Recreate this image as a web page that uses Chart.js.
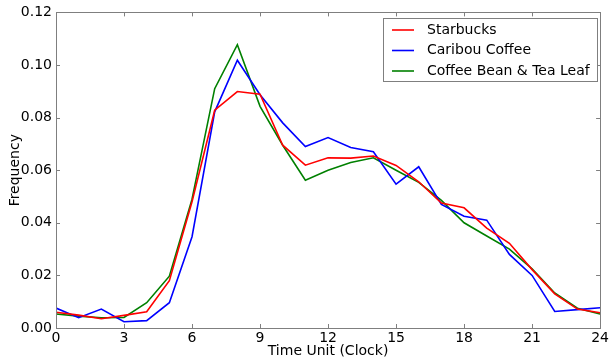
<!DOCTYPE html>
<html>
<head>
<meta charset="utf-8">
<script src="https://cdn.jsdelivr.net/npm/chart.js@4/dist/chart.umd.min.js"></script>
<style>
  html, body { margin: 0; padding: 0; background: #fff; }
  #wrap { width: 611px; height: 360px; }
</style>
</head>
<body>
<div id="wrap"><canvas id="chart" width="611" height="360"></canvas></div>
<script>
var hours = [0, 1, 2, 3, 4, 5, 6, 7, 8, 9, 10, 11, 12, 13, 14, 15, 16, 17, 18, 19, 20, 21, 22, 23, 24];
var starbucks = [0.0060, 0.0049, 0.0035, 0.0048, 0.0062, 0.0180, 0.0480, 0.0828, 0.0899, 0.0889, 0.0695, 0.0619, 0.0647, 0.0646, 0.0654, 0.0618, 0.0556, 0.0475, 0.0457, 0.0380, 0.0322, 0.0222, 0.0130, 0.0072, 0.0058];
var caribou = [0.0076, 0.0039, 0.0072, 0.0024, 0.0028, 0.0096, 0.0347, 0.0822, 0.1018, 0.0887, 0.0780, 0.0690, 0.0724, 0.0686, 0.0670, 0.0547, 0.0613, 0.0470, 0.0425, 0.0410, 0.0280, 0.0200, 0.0063, 0.0070, 0.0077];
var coffeeBean = [0.0053, 0.0045, 0.0039, 0.0040, 0.0096, 0.0197, 0.0490, 0.0910, 0.1077, 0.0843, 0.0695, 0.0562, 0.0600, 0.0629, 0.0647, 0.0600, 0.0554, 0.0485, 0.0400, 0.0350, 0.0300, 0.0225, 0.0133, 0.0075, 0.0053];
var seriesNames = ['Starbucks', 'Caribou Coffee', 'Coffee Bean & Tea Leaf'];
var seriesColors = ['#ff0000', '#0000ff', '#008000'];

var font = "'DejaVu Sans', sans-serif";

function toPoints(values) {
  return values.map(function (v, i) {
    return { x: hours[i], y: v };
  });
}

// matplotlib-style inward ticks on all four sides, plus the frame
var frameTicks = {
  id: 'frameTicks',
  afterDatasetsDraw: function (chart) {
    var ctx = chart.ctx;
    var area = chart.chartArea;
    var xs = chart.scales.x;
    var ys = chart.scales.y;
    var len = 4;

    ctx.save();
    ctx.strokeStyle = '#7f7f7f';
    ctx.lineWidth = 1;
    ctx.beginPath();
    xs.ticks.forEach(function (t) {
      var px = Math.round(xs.getPixelForValue(t.value)) + 0.5;
      ctx.moveTo(px, area.bottom);
      ctx.lineTo(px, area.bottom - len);
      ctx.moveTo(px, area.top);
      ctx.lineTo(px, area.top + len);
    });
    ys.ticks.forEach(function (t) {
      var py = Math.round(ys.getPixelForValue(t.value)) + 0.5;
      ctx.moveTo(area.left, py);
      ctx.lineTo(area.left + len, py);
      ctx.moveTo(area.right, py);
      ctx.lineTo(area.right - len, py);
    });
    ctx.stroke();
    ctx.strokeRect(Math.round(area.left) + 0.5, Math.round(area.top) + 0.5,
      Math.round(area.right - area.left), Math.round(area.bottom - area.top));
    ctx.restore();
  },
  afterDraw: function (chart) {
    // legend box in the upper right, like the original
    var ctx = chart.ctx;
    var left = 383, top = 18, w = 214, h = 63;
    ctx.save();
    ctx.fillStyle = '#fff';
    ctx.fillRect(left, top, w, h);
    ctx.strokeStyle = '#7f7f7f';
    ctx.lineWidth = 1;
    ctx.strokeRect(left + 0.5, top + 0.5, w, h);
    ctx.font = '14px ' + font;
    ctx.textBaseline = 'middle';
    chart.data.datasets.forEach(function (ds, i) {
      var y = top + 12 + i * 20.5;
      ctx.strokeStyle = ds.borderColor;
      ctx.lineWidth = 1.6;
      ctx.beginPath();
      ctx.moveTo(left + 9, y);
      ctx.lineTo(left + 31, y);
      ctx.stroke();
      ctx.fillStyle = '#000';
      ctx.fillText(ds.label, left + 44, y);
    });
    ctx.restore();
  }
};

new Chart(document.getElementById('chart'), {
  type: 'line',
  data: {
    datasets: seriesNames.map(function (name, i) {
      return {
        label: name,
        data: toPoints([starbucks, caribou, coffeeBean][i]),
        borderColor: seriesColors[i],
        backgroundColor: seriesColors[i],
        borderWidth: 1.6,
        pointRadius: 0,
        tension: 0,
        fill: false
      };
    })
  },
  options: {
    responsive: false,
    animation: false,
    layout: { padding: { left: 0, right: 7, top: 12, bottom: 0 } },
    plugins: {
      legend: { display: false },
      tooltip: { enabled: false }
    },
    scales: {
      x: {
        type: 'linear',
        min: 0,
        max: 24,
        grid: { display: false, drawTicks: false },
        border: { display: false },
        ticks: {
          stepSize: 3,
          padding: 2,
          color: '#000',
          font: { family: font, size: 14 },
          maxRotation: 0
        },
        title: {
          display: true,
          text: 'Time Unit (Clock)',
          color: '#000',
          font: { family: font, size: 14 },
          padding: { top: 0, bottom: 0 }
        },
        afterFit: function (scale) { scale.height = 32; }
      },
      y: {
        min: 0,
        max: 0.12,
        grid: { display: false, drawTicks: false },
        border: { display: false },
        ticks: {
          stepSize: 0.02,
          padding: 4,
          color: '#000',
          font: { family: font, size: 14 },
          callback: function (v) { return Number(v).toFixed(2); }
        },
        title: {
          display: true,
          text: 'Frequency',
          color: '#000',
          font: { family: font, size: 14 },
          padding: { top: 7, bottom: 0 }
        },
        afterFit: function (scale) { scale.width = 56; }
      }
    }
  },
  plugins: [frameTicks]
});
</script>
</body>
</html>
